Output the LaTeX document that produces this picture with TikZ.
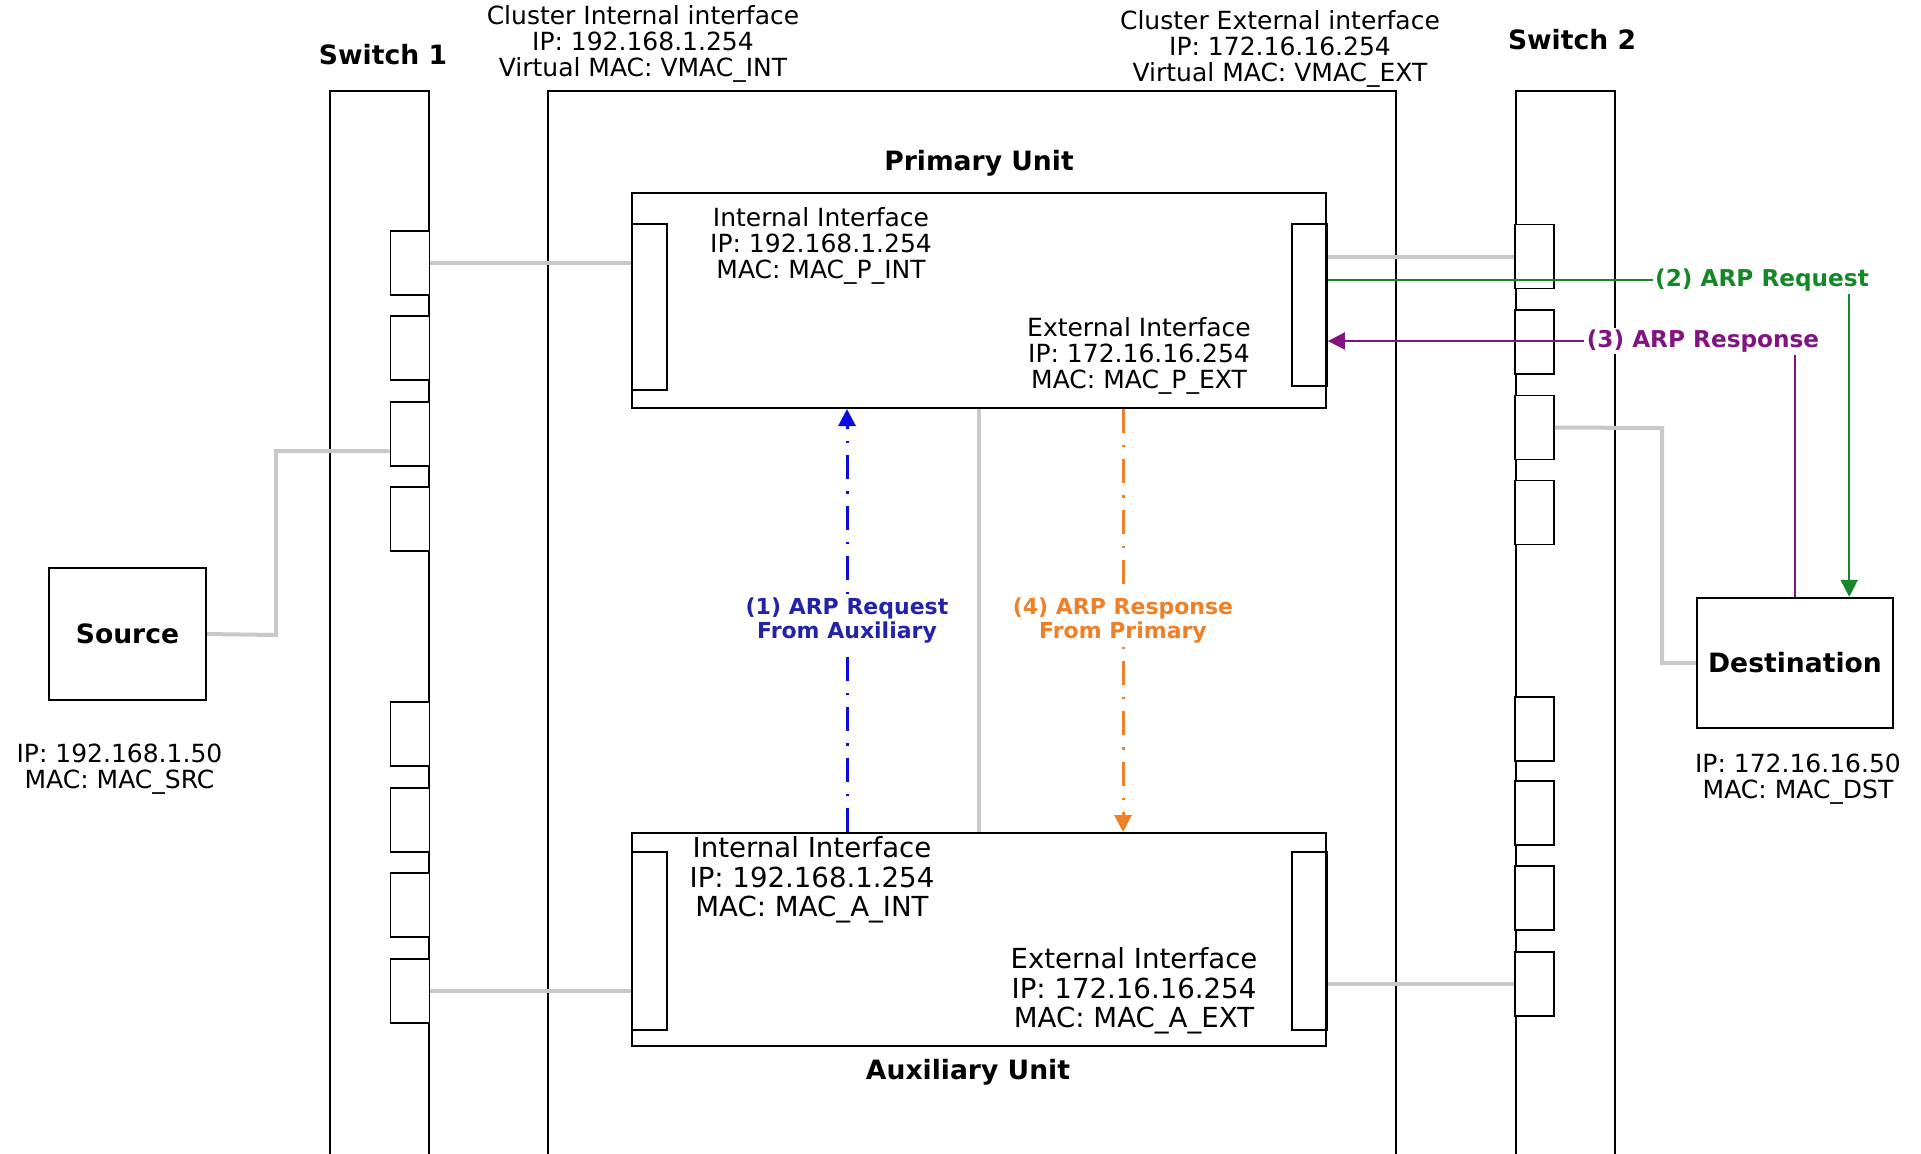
\documentclass[tikz,border=0pt]{standalone}
\usepackage{fontspec}
\setmainfont{DejaVu Sans}
\usepackage{xcolor}
\usepackage{tikz}
\usetikzlibrary{arrows.meta,positioning,calc}
\definecolor{cablegray}{RGB}{200,200,200}
\definecolor{reqblue}{RGB}{10,10,225}
\definecolor{reqbluetext}{RGB}{35,35,170}
\definecolor{resporange}{RGB}{238,128,40}
\definecolor{reqgreen}{RGB}{20,135,40}
\definecolor{resppurple}{RGB}{130,20,130}

\tikzset{
  switchbox/.style={draw,line width=1pt,minimum width=49.5pt,minimum height=560pt,inner sep=0pt},
  portbox/.style={draw,line width=0.9pt,fill=white,minimum width=19.5pt,minimum height=32pt,inner sep=0pt},
  unitbox/.style={draw,line width=1pt,minimum width=347pt,minimum height=107.5pt,inner sep=0pt},
  ifport/.style={draw,line width=0.9pt,minimum width=17.5pt,inner sep=0pt},
  hostbox/.style={draw,line width=1.2pt,inner sep=0pt,font=\bfseries\fontsize{13.3}{15}\selectfont},
  titletext/.style={inner sep=0pt,font=\bfseries\fontsize{13.3}{15}\selectfont},
  infotext/.style={align=center,inner sep=0pt,font=\fontsize{12.5}{13}\selectfont},
  auxtext/.style={align=center,inner sep=0pt,font=\fontsize{13.8}{14.7}\selectfont},
  cable/.style={line width=2pt,cablegray},
  flowlabel/.style={fill=white,align=center,inner sep=1pt,font=\bfseries\fontsize{11}{11.6}\selectfont},
  sidelabel/.style={fill=white,inner sep=1pt,font=\bfseries\fontsize{11.6}{12}\selectfont}
}

\begin{document}
\begin{tikzpicture}[x=0.5pt,y=-0.5pt,>={Triangle[length=8.5pt,width=8.5pt]}]
  \clip (0,0) rectangle (1921,1153);
  \fill[white] (0,0) rectangle (1921,1153);

  % switches and cluster
  \node[switchbox] (sw1) at (379.5,651) {};
  \node[switchbox] (sw2) at (1565,651) {};
  \node[switchbox,minimum width=424pt] (cluster) at (972,651) {};

  \node[titletext] (sw1lbl) at (383,55) {Switch 1};
  \node[titletext] (sw2lbl) at (1572,40) {Switch 2};
  \node[infotext] (cint) at (643,44) {Cluster Internal interface\\IP: 192.168.1.254\\Virtual MAC: VMAC\_INT};
  \node[infotext] (cext) at (1280,49) {Cluster External interface\\IP: 172.16.16.254\\Virtual MAC: VMAC\_EXT};

  % switch ports
  \node[portbox] (s1p1) at (410,263) {};
  \node[portbox] (s1p2) at (410,348) {};
  \node[portbox] (s1p3) at (410,434) {};
  \node[portbox] (s1p4) at (410,519) {};
  \node[portbox] (s1p5) at (410,734) {};
  \node[portbox] (s1p6) at (410,820) {};
  \node[portbox] (s1p7) at (410,905) {};
  \node[portbox] (s1p8) at (410,991) {};

  \node[portbox] (s2p1) at (1534.5,256.5) {};
  \node[portbox] (s2p2) at (1534.5,342) {};
  \node[portbox] (s2p3) at (1534.5,427.5) {};
  \node[portbox] (s2p4) at (1534.5,512.5) {};
  \node[portbox] (s2p5) at (1534.5,729) {};
  \node[portbox] (s2p6) at (1534.5,813) {};
  \node[portbox] (s2p7) at (1534.5,898) {};
  \node[portbox] (s2p8) at (1534.5,984) {};

  % units
  \node[unitbox] (primary) at (979,300.5) {};
  \node[ifport,minimum height=83pt] (pint) at (649.5,307) {};
  \node[ifport,minimum height=81pt] (pext) at (1309.5,305) {};
  \node[titletext] (plbl) at (979,163) {Primary Unit};
  \node[infotext] (pinttxt) at (821,246) {Internal Interface\\IP: 192.168.1.254\\MAC: MAC\_P\_INT};
  \node[infotext] (pexttxt) at (1139,356) {External Interface\\IP: 172.16.16.254\\MAC: MAC\_P\_EXT};

  \node[unitbox,minimum height=106.5pt] (aux) at (979,939.5) {};
  \node[ifport,minimum height=89pt] (aint) at (649.5,941) {};
  \node[ifport,minimum height=89pt] (aext) at (1309.5,941) {};
  \node[titletext] (albl) at (968,1072) {Auxiliary Unit};
  \node[auxtext] (ainttxt) at (812,880) {Internal Interface\\IP: 192.168.1.254\\MAC: MAC\_A\_INT};
  \node[auxtext] (aexttxt) at (1134,991) {External Interface\\IP: 172.16.16.254\\MAC: MAC\_A\_EXT};

  % hosts
  \node[hostbox,minimum width=78.5pt,minimum height=66pt] (src) at (127.5,634) {Source};
  \node[infotext,below=21pt of src,xshift=-4pt] (srcinfo) {IP: 192.168.1.50\\MAC: MAC\_SRC};
  \node[hostbox,minimum width=98pt,minimum height=65pt] (dst) at (1795,663) {Destination};
  \node[infotext,below=12pt of dst,xshift=1.5pt] (dstinfo) {IP: 172.16.16.50\\MAC: MAC\_DST};

  % cables
  \coordinate (srcbend) at (276,635);
  \coordinate (dstbend) at (1662,428);
  \draw[cable] (s1p1.east) -- (s1p1.east -| pint.west);
  \draw[cable] ([yshift=-8.5pt]s1p3.west) -| (srcbend) -- (src.east);
  \draw[cable] (s1p8.east) -- (s1p8.east -| aint.west);
  \draw[cable] (s2p1.west) -- (s2p1.west -| pext.east);
  \draw[cable] (s2p8.west) -- (s2p8.west -| aext.east);
  \draw[cable] (s2p3.east) -- (dstbend) |- (dst.west);
  \draw[cable] (primary.south) -- (aux.north);

  % ARP exchange
  \draw[reqblue,line width=1.5pt,dash pattern=on 12pt off 6pt on 1.2pt off 6pt,->]
    ([xshift=-66pt]aux.north) -- node[flowlabel,text=reqbluetext]{(1) ARP Request\\From Auxiliary} ([xshift=-66pt]primary.south);
  \draw[resporange,line width=1.5pt,dash pattern=on 12pt off 6pt on 1.2pt off 6pt,->]
    ([xshift=72pt]primary.south) -- node[flowlabel,text=resporange]{(4) ARP Response\\From Primary} ([xshift=72pt]aux.north);

  \node[sidelabel,text=reqgreen] (arpreq) at (1762,280) {(2) ARP Request};
  \coordinate (dstin) at ($(dst.north east)+(-45,0)$);
  \draw[reqgreen,line width=1pt] (arpreq.west) -- (arpreq.west -| pext.east);
  \draw[reqgreen,line width=1pt,->] (arpreq.south -| dstin) -- (dstin);

  \node[sidelabel,text=resppurple] (arpresp) at (1703,341) {(3) ARP Response};
  \draw[resppurple,line width=1pt,->] (arpresp.west) -- (arpresp.west -| pext.east);
  \draw[resppurple,line width=1pt] (dst.north) -- (dst.north |- arpresp.south);

\end{tikzpicture}
\end{document}
